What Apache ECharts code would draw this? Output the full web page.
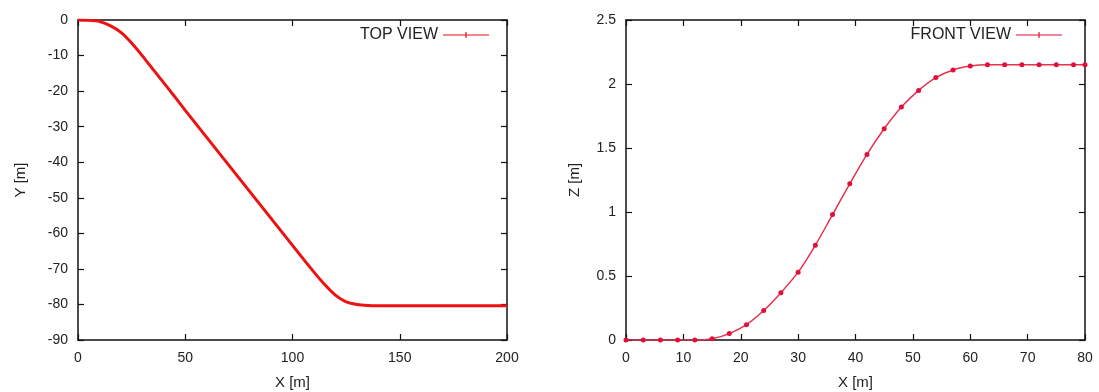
<!DOCTYPE html>
<html>
<head>
<meta charset="utf-8">
<script src="https://cdn.jsdelivr.net/npm/echarts@6/dist/echarts.min.js"></script>
<style>
html,body{margin:0;padding:0;background:#fff;}
#c{width:1099px;height:392px;}
</style>
</head>
<body>
<div id="c"></div>
<script>
// TOP VIEW: X [m] vs Y [m]
const topX = [0,5,10,15,20,25,30,35,40,45,50,55,60,65,70,75,80,85,90,95,100,105,110,115,120,125,130,135,140,145,150,155,160,165,170,175,180,185,190,195,200];
const topY = [0,-0.1,-0.4,-1.6,-3.5,-6.5,-10.1,-13.9,-17.7,-21.5,-25.4,-29.2,-33.0,-36.8,-40.6,-44.4,-48.2,-52.0,-55.8,-59.6,-63.4,-67.2,-70.9,-74.4,-77.4,-79.3,-80.0,-80.3,-80.4,-80.4,-80.4,-80.4,-80.4,-80.4,-80.4,-80.4,-80.4,-80.4,-80.4,-80.4,-80.4];
// FRONT VIEW: X [m] vs Z [m]
const frontX = [0,3,6,9,12,15,18,21,24,27,30,33,36,39,42,45,48,51,54,57,60,63,66,69,72,75,78,80];
const frontZ = [0,0,0,0,0,0.01,0.05,0.12,0.23,0.37,0.53,0.74,0.98,1.22,1.45,1.65,1.82,1.95,2.05,2.11,2.14,2.15,2.15,2.15,2.15,2.15,2.15,2.15];
// Axis ticks
const leftXTicks = {min:0, max:200, interval:50};
const leftYTicks = {min:-90, max:0, interval:10};
const rightXTicks = {min:0, max:80, interval:10};
const rightYTicks = {min:0, max:2.5, interval:0.5};

const FONT = '"Liberation Sans", Arial, sans-serif';
const txt = '#222';
const lineAx = {show:true, onZero:false, lineStyle:{color:'#111', width:1.5}};
const tick = {show:true, inside:true, length:6, lineStyle:{color:'#111', width:1.2}};
const lbl = {color:txt, fontFamily:FONT, fontSize:14};
const legendIcon = 'path://M0,3.4h46v1.2h-46z M22.4,1h1.2v6h-1.2z M0,3.4z';

function xAx(grid, t, pos, withLabel, name){
  return {
    type:'value', gridIndex:grid, position:pos, min:t.min, max:t.max, interval:t.interval,
    axisLine:lineAx, axisTick:tick, splitLine:{show:false},
    axisLabel: withLabel ? Object.assign({margin:11}, lbl) : {show:false},
    name: name || '', nameLocation:'middle', nameGap:35,
    nameTextStyle:{color:txt, fontFamily:FONT, fontSize:15}
  };
}
function yAx(grid, t, pos, withLabel, name, gap){
  return {
    type:'value', gridIndex:grid, position:pos, min:t.min, max:t.max, interval:t.interval,
    axisLine:lineAx, axisTick:tick, splitLine:{show:false},
    axisLabel: withLabel ? Object.assign({margin:10}, lbl) : {show:false},
    name: name || '', nameLocation:'middle', nameGap:gap || 40, nameRotate:90,
    nameTextStyle:{color:txt, fontFamily:FONT, fontSize:15}
  };
}
function pairs(xs, ys){ return xs.map((x,i)=>[x, ys[i]]); }

const chart = echarts.init(document.getElementById('c'), null, {renderer:'canvas'});
chart.setOption({
  backgroundColor:'#ffffff',
  animation:false,
  grid:[
    {left:78, top:20, width:429, height:320, containLabel:false, outerBoundsMode:'none'},
    {left:626, top:20, width:459, height:320, containLabel:false, outerBoundsMode:'none'}
  ],
  legend:[
    {data:[{name:'TOP VIEW', icon:legendIcon}], right:1099-494, top:22, align:'right', itemWidth:46, itemHeight:8, itemGap:8,
     textStyle:{color:txt, fontFamily:FONT, fontSize:16}},
    {data:[{name:'FRONT VIEW', icon:legendIcon}], right:1099-1067, top:22, align:'right', itemWidth:46, itemHeight:8, itemGap:8,
     textStyle:{color:txt, fontFamily:FONT, fontSize:16}}
  ],
  xAxis:[
    xAx(0, leftXTicks, 'bottom', true, 'X [m]'),
    xAx(0, leftXTicks, 'top', false),
    xAx(1, rightXTicks, 'bottom', true, 'X [m]'),
    xAx(1, rightXTicks, 'top', false)
  ],
  yAxis:[
    yAx(0, leftYTicks, 'left', true, 'Y [m]', 50),
    yAx(0, leftYTicks, 'right', false),
    yAx(1, rightYTicks, 'left', true, 'Z [m]', 44),
    yAx(1, rightYTicks, 'right', false)
  ],
  series:[
    {name:'TOP VIEW', type:'line', xAxisIndex:0, yAxisIndex:0, data:pairs(topX, topY),
     smooth:0.2, symbol:'none', lineStyle:{color:'#ee1111', width:3}, itemStyle:{color:'#ee1111'}},
    {name:'FRONT VIEW', type:'line', xAxisIndex:2, yAxisIndex:2, data:pairs(frontX, frontZ),
     smooth:0.3, symbol:'circle', symbolSize:5, showSymbol:true,
     lineStyle:{color:'#e8304f', width:1.5}, itemStyle:{color:'#e0103a'}}
  ]
});
</script>
</body>
</html>
